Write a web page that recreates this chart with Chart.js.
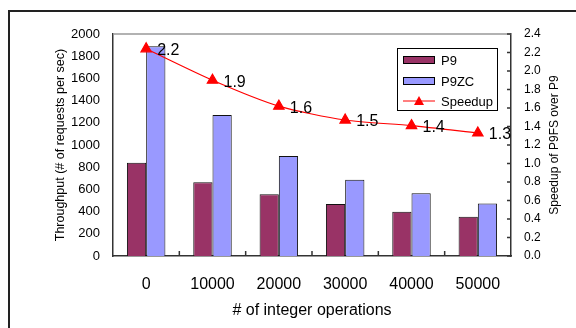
<!DOCTYPE html>
<html>
<head>
<meta charset="utf-8">
<script src="https://cdn.jsdelivr.net/npm/chart.js@4/dist/chart.umd.min.js"></script>
<style>
  html, body { margin: 0; padding: 0; background: #fff; }
  #wrap { position: relative; width: 576px; height: 328px; overflow: hidden; }
  #frame { position: absolute; left: 8px; top: 10px; width: 600px; height: 400px; border: 2px solid #222; box-sizing: border-box; }
  #chart { position: absolute; left: 0; top: 0; }
</style>
</head>
<body>
<div id="wrap">
  <div id="frame"></div>
  <canvas id="chart" width="576" height="328"></canvas>
</div>
<script>
const categories = ['0', '10000', '20000', '30000', '40000', '50000'];
const p9 = [840, 664, 556, 468, 399, 354];
const p9zc = [1889, 1270, 900, 687, 565, 474];
const speedup = [2.24, 1.90, 1.62, 1.47, 1.41, 1.33];

const fontFamily = '"Liberation Sans", Arial, sans-serif';

// inner ticks, grey top border, point labels, right title and the boxed legend
const extras = {
  id: 'extras',
  afterDraw(chart) {
    const ctx = chart.ctx;
    const area = chart.chartArea;
    const x = chart.scales.x;
    const y2 = chart.scales.y2;
    ctx.save();

    ctx.strokeStyle = '#999';
    ctx.lineWidth = 1.5;
    ctx.beginPath();
    ctx.moveTo(area.left, area.top);
    ctx.lineTo(area.right, area.top);
    ctx.stroke();

    ctx.strokeStyle = '#333';
    ctx.lineWidth = 1.5;
    ctx.beginPath();
    for (let i = 1; i < categories.length; i++) {
      const px = (x.getPixelForValue(i - 1) + x.getPixelForValue(i)) / 2;
      ctx.moveTo(px, area.bottom);
      ctx.lineTo(px, area.bottom - 5);
    }
    y2.ticks.forEach(t => {
      const py = y2.getPixelForValue(t.value);
      ctx.moveTo(area.right, py);
      ctx.lineTo(area.right - 4, py);
    });
    ctx.stroke();

    // right axis title, reading bottom to top
    ctx.save();
    ctx.translate(555, (area.top + area.bottom) / 2);
    ctx.rotate(-Math.PI / 2);
    ctx.fillStyle = '#000';
    ctx.font = '12px ' + fontFamily;
    ctx.textAlign = 'center';
    ctx.textBaseline = 'middle';
    ctx.fillText('Speedup of P9FS over P9', 0, 0);
    ctx.restore();

    // speedup labels
    const meta = chart.getDatasetMeta(2);
    ctx.fillStyle = '#000';
    ctx.font = '16px ' + fontFamily;
    ctx.textAlign = 'left';
    ctx.textBaseline = 'middle';
    meta.data.forEach((pt, i) => {
      ctx.fillText(speedup[i].toFixed(1), pt.x + 11, pt.y + 2);
    });

    // legend
    const lx = 397, ly = 48, lw = 100, lh = 62;
    ctx.fillStyle = '#fff';
    ctx.fillRect(lx, ly, lw, lh);
    ctx.strokeStyle = '#000';
    ctx.lineWidth = 1;
    ctx.strokeRect(lx + 0.5, ly + 0.5, lw, lh);
    ctx.font = '13px ' + fontFamily;
    const ds = chart.data.datasets;
    const rows = [60, 81, 101];
    ds.forEach((d, i) => {
      const cy = rows[i];
      if (d.type === 'line') {
        ctx.strokeStyle = d.borderColor;
        ctx.lineWidth = 1;
        ctx.beginPath();
        ctx.moveTo(403, cy);
        ctx.lineTo(435, cy);
        ctx.stroke();
        ctx.fillStyle = d.pointBackgroundColor;
        ctx.beginPath();
        ctx.moveTo(419, cy - 5);
        ctx.lineTo(424, cy + 4);
        ctx.lineTo(414, cy + 4);
        ctx.closePath();
        ctx.fill();
      } else {
        ctx.fillStyle = d.backgroundColor;
        ctx.fillRect(403, cy - 4, 32, 8);
        ctx.strokeStyle = '#000';
        ctx.strokeRect(403.5, cy - 3.5, 31, 7);
      }
      ctx.fillStyle = '#000';
      ctx.fillText(d.label, 441, cy + 1);
    });

    ctx.restore();
  }
};

new Chart(document.getElementById('chart').getContext('2d'), {
  data: {
    labels: categories,
    datasets: [
      {
        type: 'bar',
        label: 'P9',
        data: p9,
        backgroundColor: '#993366',
        borderColor: '#111',
        borderWidth: 1,
        barPercentage: 1,
        categoryPercentage: 0.58,
        yAxisID: 'y',
        order: 2
      },
      {
        type: 'bar',
        label: 'P9ZC',
        data: p9zc,
        backgroundColor: '#9999FF',
        borderColor: '#111',
        borderWidth: 1,
        barPercentage: 1,
        categoryPercentage: 0.58,
        yAxisID: 'y',
        order: 2
      },
      {
        type: 'line',
        label: 'Speedup',
        data: speedup,
        borderColor: '#FF0000',
        borderWidth: 1.2,
        tension: 0.25,
        pointStyle: 'triangle',
        pointRadius: 6,
        pointBackgroundColor: '#FF0000',
        pointBorderColor: '#FF0000',
        yAxisID: 'y2',
        order: 1
      }
    ]
  },
  options: {
    responsive: false,
    animation: false,
    layout: { padding: { top: 34, left: 0, right: 0, bottom: 0 } },
    plugins: {
      legend: { display: false },
      tooltip: { enabled: false }
    },
    scales: {
      x: {
        offset: true,
        grid: { display: false },
        border: { display: true, color: '#333', width: 1.5 },
        ticks: { color: '#000', font: { family: fontFamily, size: 16 }, padding: 11, maxRotation: 0 },
        title: { display: true, text: '# of integer operations', color: '#000', font: { family: fontFamily, size: 16 }, padding: { top: 0, bottom: 8 } },
        afterFit(scale) { scale.height = 72; }
      },
      y: {
        position: 'left',
        min: 0,
        max: 2000,
        ticks: { stepSize: 200, color: '#000', font: { family: fontFamily, size: 13 }, padding: 5, callback: v => String(v) },
        grid: { display: false },
        border: { display: true, color: '#333', width: 1.5 },
        title: { display: true, text: 'Throughput (# of requests per sec)', color: '#000', font: { family: fontFamily, size: 12.5 }, padding: { top: 53, bottom: 0 } },
        afterFit(scale) { scale.width = 113; }
      },
      y2: {
        position: 'right',
        min: 0,
        max: 2.4,
        ticks: { stepSize: 0.2, color: '#000', font: { family: fontFamily, size: 12 }, padding: 5, callback: v => Number(v).toFixed(1) },
        grid: { display: false },
        border: { display: true, color: '#333', width: 1.5 },
        afterFit(scale) { scale.width = 65; }
      }
    }
  },
  plugins: [extras]
});
</script>
</body>
</html>
